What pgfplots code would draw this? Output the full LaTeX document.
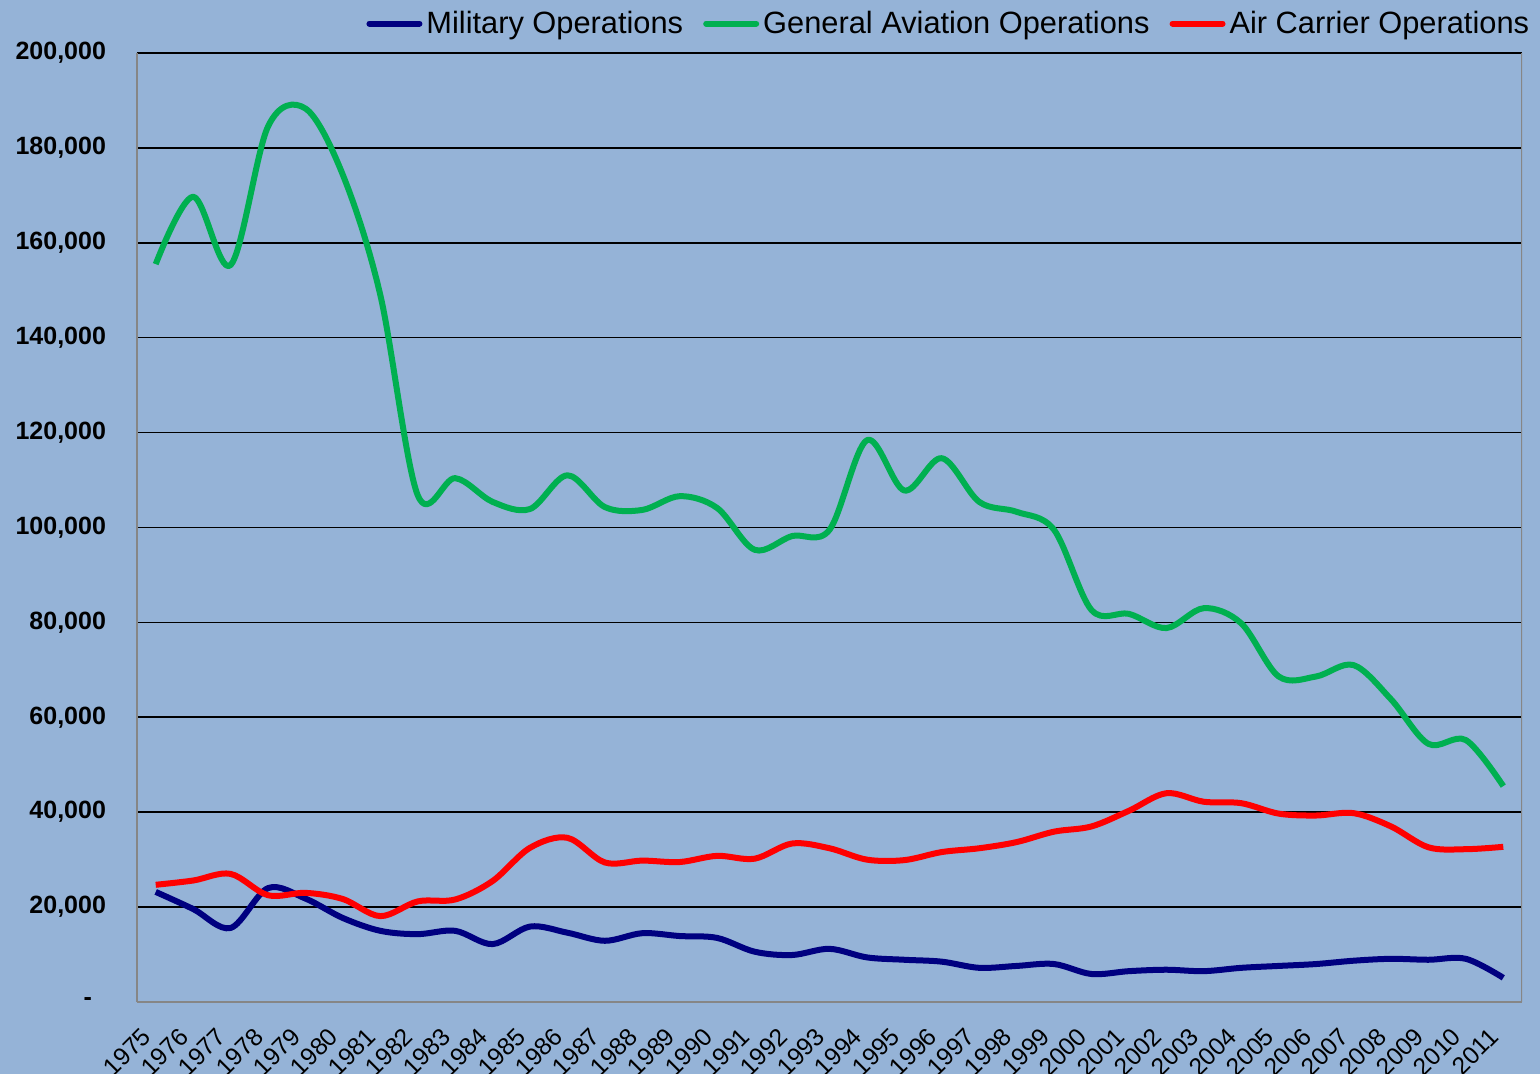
\documentclass[border=0pt]{standalone}
\usepackage{pgfplots}
\pgfplotsset{compat=1.18}
\usepackage{pgfplotstable}
\usepackage{fontspec}
\setmainfont{Liberation Sans}

\definecolor{bgblue}{RGB}{149,179,215}
\definecolor{milblue}{RGB}{0,0,128}
\definecolor{gagreen}{RGB}{0,176,80}
\definecolor{acred}{RGB}{255,0,0}
\definecolor{axgray}{RGB}{134,134,134}

% year, military, general aviation, air carrier (thousands)
\pgfplotstableread{
year mil ga ac
1975 23.2 155.5 24.7
1976 19.6 169.7 25.6
1977 15.6 155.3 27.0
1978 24.0 184.5 22.5
1979 21.8 188.3 23.0
1980 17.7 174.3 21.7
1981 15.0 149.0 18.1
1982 14.3 106.8 21.2
1983 15.0 110.4 21.6
1984 12.2 105.4 25.5
1985 15.9 103.9 32.5
1986 14.6 111.0 34.6
1987 12.9 104.3 29.4
1988 14.5 103.7 29.8
1989 13.9 106.6 29.5
1990 13.5 104.1 30.8
1991 10.6 95.3 30.2
1992 9.9 98.2 33.4
1993 11.2 99.5 32.4
1994 9.4 118.4 30.0
1995 8.9 107.8 29.9
1996 8.5 114.6 31.6
1997 7.2 105.4 32.4
1998 7.6 103.3 33.7
1999 8.0 99.5 35.9
2000 5.9 82.6 37.0
2001 6.5 81.8 40.3
2002 6.8 78.8 44.0
2003 6.5 83.0 42.2
2004 7.2 79.8 41.9
2005 7.6 68.6 39.7
2006 8.0 68.6 39.3
2007 8.7 71.0 39.8
2008 9.1 63.8 37.0
2009 8.9 54.4 32.6
2010 9.1 55.2 32.2
2011 5.1 45.5 32.7
}\datatable

\begin{document}
\begin{tikzpicture}
\fill[bgblue] (-68.5pt,-36pt) rectangle (701.5pt,501pt);
\path[use as bounding box] (-68.5pt,-36pt) rectangle (701.5pt,501pt);
\begin{axis}[
  at={(0,0)}, anchor=south west,
  scale only axis,
  width=692.5pt, height=474.5pt,
  xmin=1974.5, xmax=2011.5,
  ymin=0, ymax=200,
  axis background/.style={fill=bgblue},
  axis line style={axgray, line width=1pt},
  axis x line*=bottom,
  axis y line*=left,
  separate axis lines,
  every outer x axis line/.append style={-},
  every outer y axis line/.append style={-},
  ymajorgrids,
  grid style={black, line width=0.8pt},
  major tick length=0pt,
  xtick=data,
  ytick={0,20,...,200},
  yticklabels={{-\rule{7pt}{0pt}},{20,000},{40,000},{60,000},{80,000},{100,000},{120,000},{140,000},{160,000},{180,000},{200,000}},
  yticklabel style={font=\bfseries\fontsize{12.5}{14}\selectfont, anchor=east, xshift=-12pt},
  xticklabel style={font=\fontsize{12.3}{14}\selectfont, rotate=45, anchor=north east, inner sep=1pt, xshift=-12.9pt, yshift=-2pt},
  /pgf/number format/.cd, 1000 sep={}, assume math mode=true, /pgfplots/.cd,
  legend columns=-1,
  legend style={at={(1.0083,1.031)}, anchor=east, draw=none, fill=none,
    inner sep=0pt, font=\fontsize{15.4}{17}\selectfont,
    /tikz/every even column/.append style={column sep=8pt}},
  legend image code/.code={\draw[#1, line cap=round] (0pt,0pt) -- (25pt,0pt);},
  every axis plot/.append style={line width=3pt, smooth, tension=0.55, no marks, line join=round},
]
\addplot[milblue] table[x=year, y=mil] {\datatable};
\addlegendentry{Military Operations}
\addplot[gagreen] table[x=year, y=ga] {\datatable};
\addlegendentry{General Aviation Operations}
\addplot[acred] table[x=year, y=ac] {\datatable};
\addlegendentry{Air Carrier Operations}
\draw[axgray, line width=1pt] (rel axis cs:1,0) -- (rel axis cs:1,1);
\end{axis}
\end{tikzpicture}
\end{document}
